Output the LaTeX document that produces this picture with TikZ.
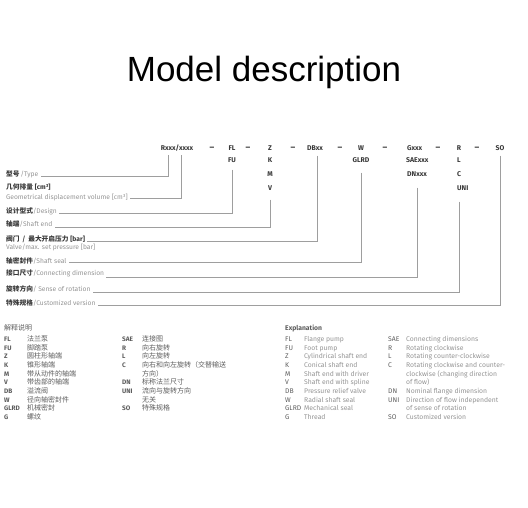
\documentclass[tikz,border=0pt]{standalone}
\usepackage{fontspec}
\setmainfont{Fira Sans}
\newfontfamily\cjk{Noto Sans CJK SC}
\newfontfamily\titlefont{Liberation Sans}
\usetikzlibrary{calc}
\definecolor{leadline}{gray}{0.62}
\definecolor{engray}{gray}{0.58}
\definecolor{codedark}{gray}{0.22}
\definecolor{cntext}{gray}{0.36}
\newcommand{\cn}[1]{{\cjk\bfseries #1}}
\newcommand{\en}[1]{{\color{engray}#1}}
\tikzset{lead/.style={draw=leadline,line width=0.8pt},
         code/.style={inner sep=1pt,text=codedark,font=\bfseries\fontsize{6.9}{7}\selectfont},
         lbl/.style={anchor=base west,inner sep=2pt,text=codedark,font=\fontsize{6.7}{7}\selectfont},
         cnrow/.style={anchor=base west,inner sep=0pt,text=cntext,font=\cjk\fontsize{7}{7}\selectfont},
         enrow/.style={anchor=base west,inner sep=0pt,text=engray,font=\fontsize{6.8}{7}\selectfont}}

\begin{document}
\begin{tikzpicture}[x=1pt,y=-1pt]
  \useasboundingbox (0,0) rectangle (528,508);
  \node[font=\titlefont\fontsize{35}{40}\selectfont] (title) at (264,72) {Model description};

  % type code
  \node[code] (rx) at (177,148) {Rxxx/xxxx};
  \node[code] (fl) at (232,148) {FL};
  \node[code] (fu) at (232,160) {FU};
  \node[code] (z) at (270,148) {Z};
  \node[code] (k) at (270,160) {K};
  \node[code] (m) at (270,174) {M};
  \node[code] (v) at (270,188) {V};
  \node[code] (db) at (315,148) {DBxx};
  \node[code] (w) at (361,148) {W};
  \node[code] (glrd) at (361,160) {GLRD};
  \node[code,anchor=west] (g) at (406,148) {Gxxx};
  \node[code,anchor=west] (sae) at (405,160) {SAExxx};
  \node[code,anchor=west] (dn) at (406,174) {DNxxx};
  \node[code] (r) at (459,148) {R};
  \node[code] (l) at (459,160) {L};
  \node[code] (c) at (459,174) {C};
  \node[code,anchor=west] (uni) at (456,188) {UNI};
  \node[code] (so) at (500,148) {SO};
  \foreach \x [count=\i] in {212,248,293,340,385,438,477}
    \node[code,anchor=base,font=\bfseries\fontsize{9}{9}\selectfont] (dash\i) at (\x,0 |- fl.base) {–};

  % left labels
  \node[lbl] (type) at (4,177) {\cn{型号}\,\en{/Type}};
  \node[lbl] (dispcn) at (4,189.5) {\cn{几何排量}\ \textbf{[cm³]}};
  \node[lbl] (disp) at (4,200) {\en{Geometrical displacement volume [cm³]}};
  \node[lbl] (design) at (4,214) {\cn{设计型式}\en{/Design}};
  \node[lbl] (shaft) at (4,227) {\cn{轴端}\en{/Shaft end}};
  \node[lbl] (valvecn) at (4,241.5) {\cn{阀门\ \ /\ \ 最大开启压力}\ \textbf{[bar]}};
  \node[lbl] (valve) at (4,250) {\en{Valve/max. set pressure [bar]}};
  \node[lbl] (seal) at (4,263) {\cn{轴密封件}\en{/Shaft seal}};
  \node[lbl] (conn) at (4,276) {\cn{接口尺寸}\en{/Connecting dimension}};
  \node[lbl] (rot) at (4,291) {\cn{旋转方向}\en{/ Sense of rotation}};
  \node[lbl] (cust) at (4,305.5) {\cn{特殊规格}\en{/Customized version}};

  % leaders
  \draw[lead,shorten <=3pt] ([xshift=-8.5pt]rx.south) |- ([yshift=1pt]type.base east);
  \draw[lead,shorten <=3pt] ([xshift=4.5pt]rx.south) |- ([yshift=2pt]disp.base east);
  \draw[lead,shorten <=6pt] (fu.south) |- ([yshift=1pt]design.base east);
  \draw[lead,shorten <=8pt] (v.south) |- (shaft.base east);
  \draw[lead,shorten <=4pt] ([xshift=2pt]db.south) |- (valvecn.base east);
  \draw[lead,shorten <=9pt] (glrd.south) |- ([yshift=1pt]seal.base east);
  \draw[lead,shorten <=10pt] (dn.south) |- ([yshift=-1pt]conn.base east);
  \draw[lead,shorten <=10pt] (uni.south -| r) |- ([yshift=-1pt]rot.base east);
  \draw[lead,shorten <=4pt] (so.south) |- (cust.base east);

  % explanation, chinese
  \node[cnrow] (cnhead) at (4,330.5) {解释说明};
  \foreach \k/\t [count=\i from 0] in {FL/法兰泵,FU/脚踏泵,Z/圆柱形轴端,K/锥形轴端,M/带从动件的轴端,
      V/带齿部的轴端,DB/溢流阀,W/径向轴密封件,GLRD/机械密封,G/螺纹}
    \node[cnrow] (cnl\i) at (4,341.5+8.67*\i) {\makebox[23pt][l]{\fontspec{Fira Sans}\bfseries\fontsize{6.5}{7}\selectfont\k}\t};
  \foreach \k/\t [count=\i from 0] in {SAE/连接图,R/向右旋转,L/向左旋转,C/向右和向左旋转（交替输送,
      /方向）,DN/标称法兰尺寸,UNI/流向与旋转方向,/无关,SO/特殊规格}
    \node[cnrow] (cnr\i) at (122,341.5+8.67*\i) {\makebox[20pt][l]{\fontspec{Fira Sans}\bfseries\fontsize{6.5}{7}\selectfont\k}\t};

  % explanation, english
  \node[enrow,text=cntext] (enhead) at (285,330.5) {\bfseries Explanation};
  \foreach \k/\t [count=\i from 0] in {FL/Flange pump,FU/Foot pump,Z/Cylindrical shaft end,K/Conical shaft end,
      M/Shaft end with driver,V/Shaft end with spline,DB/Pressure relief valve,W/Radial shaft seal,
      GLRD/Mechanical seal,G/Thread}
    \node[enrow] (enl\i) at (285,341.5+8.67*\i) {\makebox[19pt][l]{\color{cntext}\k}\t};
  \foreach \k/\t [count=\i from 0] in {SAE/Connecting dimensions,R/Rotating clockwise,L/Rotating counter-clockwise,
      C/Rotating clockwise and counter-,/clockwise (changing direction,/of flow),DN/Nominal flange dimension,
      UNI/Direction of flow independent,/of sense of rotation,SO/Customized version}
    \node[enrow] (enr\i) at (388,341.5+8.67*\i) {\makebox[18pt][l]{\color{cntext}\k}\t};
\end{tikzpicture}
\end{document}
